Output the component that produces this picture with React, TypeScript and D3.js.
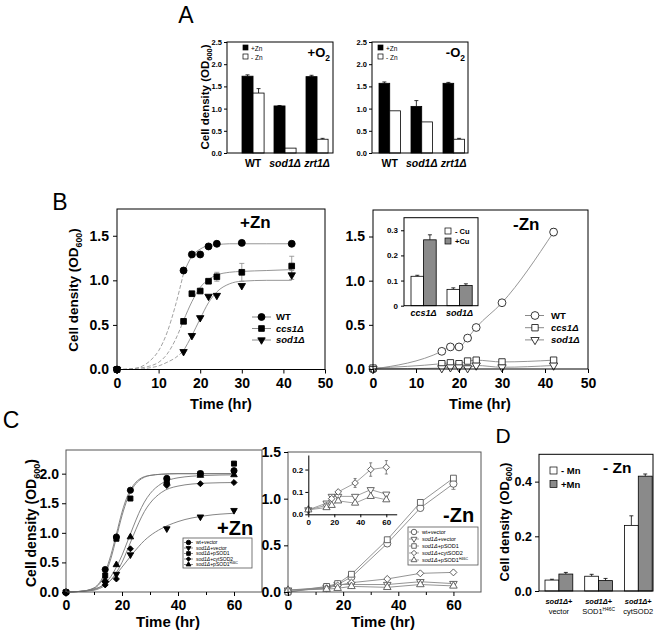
import React, { useRef, useEffect } from "react";
import * as d3 from "d3";

const W = 661;
const H = 633;
const FONT = "Arial, 'Liberation Sans', Helvetica, sans-serif";
const GREY = "#8a8a8a";

// ---- Panel A: end-point density, +O2 / -O2 ----
const aStrains = ["WT", "sod1Δ", "zrt1Δ"];
const aZinc = ["+Zn", "- Zn"];
const aAerobic = [[1.73, 1.35], [1.06, 0.11], [1.72, 0.31]];
const aAerobicErr = [[0.03, 0.1], [0.01, 0.0], [0.03, 0.02]];
const aAnaerobic = [[1.57, 0.95], [1.05, 0.7], [1.57, 0.31]];
const aAnaerobicErr = [[0.03, 0.0], [0.13, 0.0], [0.02, 0.02]];
const aTicks = [0, 0.5, 1, 1.5, 2, 2.5];

// ---- Panel B: growth curves +Zn / -Zn ----
const bTimes = [0, 16, 18, 20, 22, 24, 30, 42];
const bZnWT = [0, 1.11, 1.29, 1.29, 1.38, 1.41, 1.42, 1.41];
const bZnCcs1 = [0, 0.54, 0.85, 0.88, 0.99, 1.04, 1.09, 1.16];
const bZnCcs1Err = [0, 0, 0, 0, 0, 0.05, 0.1, 0.11];
const bZnSod1 = [0, 0.2, 0.38, 0.58, 0.82, 0.83, 0.94, 1.06];
const bZnSod1Err = [0, 0, 0, 0, 0, 0, 0, 0.05];
// fitted (sigmoid) curves
const bFitTimes = [0, 4, 8, 10, 12, 14, 16, 18, 20, 22, 24, 27, 30, 36, 42];
const bFitWT = [0, 0.01, 0.1, 0.21, 0.41, 0.71, 1.08, 1.27, 1.35, 1.39, 1.4, 1.41, 1.41, 1.41, 1.41];
const bFitCcs1 = [0, 0.01, 0.04, 0.08, 0.17, 0.33, 0.55, 0.76, 0.92, 1.01, 1.06, 1.09, 1.1, 1.11, 1.12];
const bFitSod1 = [0, 0, 0.02, 0.04, 0.08, 0.13, 0.21, 0.38, 0.57, 0.75, 0.87, 0.96, 0.99, 1.0, 1.0];

const bNoZnWT = [0, 0.2, 0.25, 0.25, 0.35, 0.47, 0.75, 1.55];
const bNoZnWTErr = [0, 0, 0, 0, 0, 0, 0, 0.04];
const bNoZnCcs1 = [0.01, 0.06, 0.07, 0.06, 0.09, 0.1, 0.08, 0.1];
const bNoZnSod1 = [0, 0.01, 0.02, 0.02, 0.01, 0.04, 0.02, 0.04];

// inset: copper rescue
const bInsetStrains = ["ccs1Δ", "sod1Δ"];
const bInsetCu = ["- Cu", "+Cu"];
const bInsetVals = [[0.117, 0.262], [0.065, 0.08]];
const bInsetErr = [[0.004, 0.02], [0.006, 0.007]];

// ---- Panel C: complementation ----
const cTimes = [0, 14, 18, 23, 36, 48, 60];
const cLabels = ["wt+vector", "sod1Δ+vector", "sod1Δ+pSOD1", "sod1Δ+cytSOD2", "sod1Δ+pSOD1H46C"];
const cZnWT = [-0.01, 0.38, 0.93, 1.72, 1.92, 2.0, 2.05];
const cZnSod1 = [-0.01, 0.15, 0.3, 0.63, 1.07, 1.27, 1.38];
const cZnPSOD1 = [0, 0.28, 0.9, 1.58, 1.88, 2.0, 2.17];
const cZnCyt = [0, 0.12, 0.22, 0.73, 1.8, 1.83, 1.85];
const cZnH46C = [0, 0.2, 0.46, 0.93, 1.85, 1.97, 1.98];
const cFitTimes = [0, 5, 10, 12, 14, 16, 18, 20, 22, 24, 26, 28, 30, 34, 40, 50, 60];
const cFitWT = [0, 0.01, 0.07, 0.16, 0.34, 0.62, 0.98, 1.35, 1.63, 1.8, 1.9, 1.95, 1.97, 1.99, 2.0, 2.0, 2.0];
const cFitSod1 = [0, 0.01, 0.05, 0.08, 0.13, 0.2, 0.3, 0.42, 0.54, 0.66, 0.77, 0.87, 0.95, 1.07, 1.19, 1.29, 1.33];
const cFitPSOD1 = [0, 0.01, 0.06, 0.14, 0.3, 0.56, 0.92, 1.29, 1.58, 1.77, 1.88, 1.94, 1.97, 1.99, 2.0, 2.0, 2.0];
const cFitCyt = [0, 0.01, 0.03, 0.06, 0.11, 0.2, 0.33, 0.5, 0.72, 0.95, 1.17, 1.36, 1.5, 1.68, 1.79, 1.84, 1.85];
const cFitH46C = [0, 0.01, 0.04, 0.08, 0.15, 0.26, 0.42, 0.62, 0.86, 1.1, 1.33, 1.52, 1.66, 1.83, 1.93, 1.97, 1.98];

const cNoZnWT = [0, 0.05, 0.08, 0.16, 0.52, 0.9, 1.16];
const cNoZnWTErr = [0, 0, 0, 0, 0, 0, 0.06];
const cNoZnSod1 = [0.02, 0.05, 0.08, 0.08, 0.08, 0.11, 0.09];
const cNoZnPSOD1 = [0, 0.06, 0.09, 0.19, 0.56, 0.96, 1.22];
const cNoZnPSOD1Err = [0, 0, 0, 0, 0, 0, 0.03];
const cNoZnCyt = [0.02, 0.04, 0.07, 0.1, 0.14, 0.2, 0.21];
const cNoZnCytErr = [0, 0, 0, 0, 0.02, 0.03, 0.03];
const cNoZnH46C = [0.02, 0.03, 0.04, 0.06, 0.05, 0.08, 0.065];

// ---- Panel D: manganese ----
const dStrains = ["vector", "SOD1", "cytSOD2"];
const dMn = ["- Mn", "+Mn"];
const dVals = [[0.04, 0.062], [0.054, 0.038], [0.24, 0.42]];
const dErr = [[0.003, 0.006], [0.007, 0.008], [0.035, 0.008]];

type Sym = "circle" | "square" | "down" | "up" | "diamond";
type Part = { t: string; italic?: boolean; sub?: boolean; sup?: boolean };
type Sel = d3.Selection<any, unknown, null, undefined>;

const App: React.FC = () => {
  const svgRef = useRef<SVGSVGElement | null>(null);

  useEffect(() => {
    const svg = d3.select(svgRef.current);
    svg.selectAll("*").remove();
    svg.append("rect").attr("width", W).attr("height", H).attr("fill", "white");
    const root: Sel = svg.append("g").attr("font-family", FONT);

    // rich text with italic / sub / superscript parts
    const rich = (x: number, y: number, parts: Part[], size: number, anchor = "start", rotate = false, weight = "bold") => {
      const t = root
        .append("text")
        .attr("text-anchor", anchor)
        .style("font-size", `${size}px`)
        .style("font-weight", weight)
        .attr("fill", "black");
      if (rotate) t.attr("transform", `translate(${x},${y}) rotate(-90)`);
      else t.attr("x", x).attr("y", y);
      let shift = 0;
      parts.forEach((p) => {
        const sp = t.append("tspan").text(p.t);
        const target = p.sub ? size * 0.3 : p.sup ? -size * 0.4 : 0;
        if (target !== shift) {
          sp.attr("dy", target - shift);
          shift = target;
        }
        if (p.sub || p.sup) sp.style("font-size", `${size * 0.65}px`);
        if (p.italic) sp.style("font-style", "italic");
      });
      return t;
    };
    const strainParts = (s: string): Part[] =>
      s.includes("Δ") ? [{ t: s, italic: true }] : [{ t: s }];

    const yLabel = (x: number, y: number, size: number) =>
      rich(x + size * 0.35, y, [{ t: "Cell density (OD" }, { t: "600", sub: true }, { t: ")" }], size, "middle", true);

    const frame = (x0: number, y0: number, x1: number, y1: number, stroke = "black") =>
      root
        .append("rect")
        .attr("x", x0)
        .attr("y", y0)
        .attr("width", x1 - x0)
        .attr("height", y1 - y0)
        .attr("fill", "none")
        .attr("stroke", stroke)
        .attr("stroke-width", 1);

    const axis = (ax: any, tx: number, ty: number, size: number, keepDomain = false) => {
      const g = root.append("g").attr("transform", `translate(${tx},${ty})`).call(ax);
      g.attr("font-family", FONT).attr("font-size", size).attr("font-weight", "bold");
      if (!keepDomain) g.select(".domain").remove();
      g.selectAll("line").attr("stroke", "black");
      g.selectAll("text").attr("fill", "black");
      return g;
    };

    const band = (cats: string[], start: number, step: number, inner: number) => {
      const r0 = start - inner * step;
      return d3
        .scaleBand<string>()
        .domain(cats)
        .range([r0, r0 + step * (cats.length + inner)])
        .paddingInner(inner)
        .paddingOuter(inner);
    };

    const errBar = (x: number, ya: number, yb: number, cap: number, color = "black") => {
      root.append("line").attr("x1", x).attr("x2", x).attr("y1", ya).attr("y2", yb).attr("stroke", color).attr("stroke-width", 0.8);
      root.append("line").attr("x1", x - cap).attr("x2", x + cap).attr("y1", yb).attr("y2", yb).attr("stroke", color).attr("stroke-width", 0.8);
    };

    const drawBars = (
      x: d3.ScaleBand<string>,
      y: d3.ScaleLinear<number, number>,
      series: string[],
      vals: number[][],
      errs: number[][],
      fills: string[]
    ) => {
      const xs = d3.scaleBand<string>().domain(series).range([0, x.bandwidth()]);
      x.domain().forEach((c, i) => {
        series.forEach((s, j) => {
          const bx = (x(c) as number) + (xs(s) as number);
          const v = vals[i][j];
          const e = errs[i][j];
          if (e > 0) errBar(bx + xs.bandwidth() / 2, y(v), y(v + e), 2);
          root
            .append("rect")
            .attr("x", bx)
            .attr("y", y(v))
            .attr("width", xs.bandwidth())
            .attr("height", y(0) - y(v))
            .attr("fill", fills[j])
            .attr("stroke", "black")
            .attr("stroke-width", 0.8);
        });
      });
    };

    // triangles and diamonds look larger than circles of equal area
    const symScale = (s: Sym) => (s === "down" || s === "up" ? 0.62 : s === "diamond" ? 0.6 : s === "square" ? 0.85 : 1);
    const symPath = (s: Sym, size: number) => {
      const t =
        s === "circle" ? d3.symbolCircle : s === "square" || s === "diamond" ? d3.symbolSquare : d3.symbolTriangle;
      return d3.symbol().type(t).size(size * symScale(s))() as string;
    };
    const mark = (s: Sym, x: number, y: number, size: number, fill: string, stroke: string) =>
      root
        .append("path")
        .attr("d", symPath(s, size))
        .attr("transform", `translate(${x},${y}) rotate(${s === "down" ? 180 : s === "diamond" ? 45 : 0})`)
        .attr("fill", fill)
        .attr("stroke", stroke)
        .attr("stroke-width", 0.9);

    const pathOf = (
      x: d3.ScaleLinear<number, number>,
      y: d3.ScaleLinear<number, number>,
      ts: number[],
      vs: number[],
      curve: d3.CurveFactory
    ) =>
      d3
        .line<number>()
        .x((_, i) => x(ts[i]))
        .y((v) => y(v))
        .curve(curve)(vs) as string;

    const fmt1 = d3.format(".1f");

    // =========================== A ===========================
    rich(186, 23, [{ t: "A" }], 23, "middle", false, "normal");
    const aY = d3.scaleLinear().domain([0, 2.5]).range([153, 42]);
    yLabel(205, 97, 11.5);
    const aPanels = [
      { x0: 227, x1: 333, start: 242, inner: 0.31, vals: aAerobic, errs: aAerobicErr, sign: "+", legX: 243 },
      { x0: 372, x1: 468, start: 379, inner: 0.33, vals: aAnaerobic, errs: aAnaerobicErr, sign: "-", legX: 378 },
    ];
    aPanels.forEach((p) => {
      const x = band(aStrains, p.start, 32, p.inner);
      drawBars(x, aY, aZinc, p.vals, p.errs, ["black", "white"]);
      frame(p.x0, 42, p.x1, 153);
      axis(d3.axisLeft(aY).tickValues(aTicks).tickFormat((d: any) => fmt1(d)).tickSize(3).tickPadding(2), p.x0, 0, 7.5);
      aStrains.forEach((s) => rich((x(s) as number) + x.bandwidth() / 2, 167, strainParts(s), 10.5, "middle"));
      aZinc.forEach((z, i) => {
        root
          .append("rect")
          .attr("x", p.legX)
          .attr("y", 45 + i * 9)
          .attr("width", 5)
          .attr("height", 5)
          .attr("fill", i === 0 ? "black" : "white")
          .attr("stroke", "black")
          .attr("stroke-width", 0.7);
        rich(p.legX + 8, 50.5 + i * 9, [{ t: z }], 6.5, "start", false, "normal");
      });
      rich(p.x1 - 3, 57, [{ t: p.sign + "O" }, { t: "2", sub: true }], 13, "end");
    });

    // =========================== B ===========================
    rich(60, 210, [{ t: "B" }], 23, "middle", false, "normal");
    yLabel(73, 290, 13.5);
    const bY = d3.scaleLinear().domain([0, 1.8]).range([369.5, 209]);
    const bYTicks = [0, 0.5, 1, 1.5];
    const bXTicks = [0, 10, 20, 30, 40, 50];

    // B left (+Zn)
    const bXL = d3.scaleLinear().domain([0, 50]).range([117, 325]);
    const bLeft = [
      { name: "WT", sym: "circle" as Sym, vals: bZnWT, err: bTimes.map(() => 0), fit: bFitWT },
      { name: "ccs1Δ", sym: "square" as Sym, vals: bZnCcs1, err: bZnCcs1Err, fit: bFitCcs1 },
      { name: "sod1Δ", sym: "down" as Sym, vals: bZnSod1, err: bZnSod1Err, fit: bFitSod1 },
    ];
    bLeft.forEach((s) => {
      const cut = bFitTimes.findIndex((t) => t >= bTimes[1]);
      root
        .append("path")
        .attr("d", pathOf(bXL, bY, bFitTimes.slice(0, cut + 1), s.fit.slice(0, cut + 1), d3.curveMonotoneX))
        .attr("fill", "none")
        .attr("stroke", GREY)
        .attr("stroke-width", 0.8)
        .attr("stroke-dasharray", "4,2");
      root
        .append("path")
        .attr("d", pathOf(bXL, bY, bFitTimes.slice(cut), s.fit.slice(cut), d3.curveMonotoneX))
        .attr("fill", "none")
        .attr("stroke", GREY)
        .attr("stroke-width", 0.9);
      s.vals.forEach((v, i) => {
        if (s.err[i] > 0) {
          errBar(bXL(bTimes[i]), bY(v), bY(v + s.err[i]), 2.5, GREY);
          errBar(bXL(bTimes[i]), bY(v), bY(v - s.err[i]), 2.5, GREY);
        }
      });
      s.vals.forEach((v, i) => mark(s.sym, bXL(bTimes[i]), bY(v), 38, "black", "black"));
    });
    frame(117, 209, 325, 369.5);
    axis(d3.axisLeft(bY).tickValues(bYTicks).tickFormat((d: any) => fmt1(d)).tickSize(4).tickPadding(4), 117, 0, 14);
    axis(d3.axisBottom(bXL).tickValues(bXTicks).tickSize(4).tickPadding(5), 0, 369.5, 14);
    rich(221, 409, [{ t: "Time (hr)" }], 14.5, "middle");
    rich(240, 228, [{ t: "+Zn" }], 17);
    bLeft.forEach((s, i) => {
      const ly = 317 + i * 11.5;
      root.append("line").attr("x1", 252).attr("x2", 271).attr("y1", ly).attr("y2", ly).attr("stroke", GREY);
      mark(s.sym, 261.5, ly, 38, "black", "black");
      rich(276, ly + 3.3, strainParts(s.name), 9.5, "start");
    });

    // B right (-Zn)
    const bXR = d3.scaleLinear().domain([0, 50]).range([373, 588]);
    const bYR = d3.scaleLinear().domain([0, 1.8]).range([369, 210]);
    const bRight = [
      { name: "WT", sym: "circle" as Sym, vals: bNoZnWT, err: bNoZnWTErr },
      { name: "ccs1Δ", sym: "square" as Sym, vals: bNoZnCcs1, err: bTimes.map(() => 0) },
      { name: "sod1Δ", sym: "down" as Sym, vals: bNoZnSod1, err: bTimes.map(() => 0) },
    ];
    bRight.forEach((s) => {
      root
        .append("path")
        .attr("d", pathOf(bXR, bYR, bTimes, s.vals, d3.curveMonotoneX))
        .attr("fill", "none")
        .attr("stroke", GREY)
        .attr("stroke-width", 0.9);
      s.vals.forEach((v, i) => {
        if (s.err[i] > 0) {
          errBar(bXR(bTimes[i]), bYR(v), bYR(v + s.err[i]), 2.5, "#444");
          errBar(bXR(bTimes[i]), bYR(v), bYR(v - s.err[i]), 2.5, "#444");
        }
      });
      s.vals.forEach((v, i) => mark(s.sym, bXR(bTimes[i]), bYR(v), 48, "white", "#222"));
    });
    frame(373, 210, 588, 369);
    axis(d3.axisLeft(bYR).tickValues(bYTicks).tickFormat((d: any) => fmt1(d)).tickSize(4).tickPadding(4), 373, 0, 14);
    axis(d3.axisBottom(bXR).tickValues(bXTicks).tickSize(4).tickPadding(5), 0, 369, 14);
    rich(480, 409, [{ t: "Time (hr)" }], 14.5, "middle");
    rich(513, 230, [{ t: "-Zn" }], 17);
    bRight.forEach((s, i) => {
      const ly = 315.5 + i * 12.2;
      root.append("line").attr("x1", 525).attr("x2", 544).attr("y1", ly).attr("y2", ly).attr("stroke", GREY);
      mark(s.sym, 535, ly, 48, "white", "#222");
      rich(551, ly + 3.3, strainParts(s.name), 9.5, "start");
    });

    // B inset (copper)
    const biY = d3.scaleLinear().domain([0, 0.35]).range([305.7, 217.7]);
    const biX = band(bInsetStrains, 411, 36, 0.3);
    root.append("rect").attr("x", 404).attr("y", 217.7).attr("width", 74).attr("height", 88).attr("fill", "white");
    drawBars(biX, biY, bInsetCu, bInsetVals, bInsetErr, ["white", GREY]);
    frame(404, 217.7, 478, 305.7);
    axis(
      d3.axisLeft(biY).tickValues([0, 0.1, 0.2, 0.3]).tickFormat((d: any) => (d === 0 ? "0" : fmt1(d))).tickSize(3).tickPadding(3),
      404,
      0,
      8
    );
    bInsetStrains.forEach((s) => rich((biX(s) as number) + biX.bandwidth() / 2, 315.5, strainParts(s), 9, "middle"));
    bInsetCu.forEach((c, i) => {
      root
        .append("rect")
        .attr("x", 445)
        .attr("y", 228 + i * 10)
        .attr("width", 6)
        .attr("height", 6)
        .attr("fill", i === 0 ? "white" : GREY)
        .attr("stroke", "black")
        .attr("stroke-width", 0.7);
      rich(455, 234 + i * 10, [{ t: c }], 7.5);
    });

    // =========================== C ===========================
    rich(11, 428, [{ t: "C" }], 23, "middle", false, "normal");
    yLabel(31, 523, 14);
    const cSyms: Sym[] = ["circle", "down", "square", "diamond", "up"];
    const legendText = (i: number): Part[] => {
      if (i === 0) return [{ t: "wt+vector" }];
      const rest = cLabels[i].replace("sod1Δ", "");
      if (rest.endsWith("H46C")) return [{ t: "sod1Δ", italic: true }, { t: rest.replace("H46C", "") }, { t: "H46C", sup: true }];
      return [{ t: "sod1Δ", italic: true }, { t: rest }];
    };

    // C left (+Zn)
    const cXL = d3.scaleLinear().domain([0, 70]).range([66, 262]);
    const cYL = d3.scaleLinear().domain([0, 2.4]).range([592, 450]);
    const cZn = [cZnWT, cZnSod1, cZnPSOD1, cZnCyt, cZnH46C];
    const cFits = [cFitWT, cFitSod1, cFitPSOD1, cFitCyt, cFitH46C];
    cFits.forEach((f) =>
      root
        .append("path")
        .attr("d", pathOf(cXL, cYL, cFitTimes, f, d3.curveMonotoneX))
        .attr("fill", "none")
        .attr("stroke", "#777")
        .attr("stroke-width", 0.9)
    );
    cZn.forEach((vals, k) => vals.forEach((v, i) => mark(cSyms[k], cXL(cTimes[i]), cYL(v), 30, "black", "black")));
    frame(66, 450, 262, 592, "#555");
    axis(d3.axisLeft(cYL).tickValues([0, 0.5, 1, 1.5, 2]).tickFormat((d: any) => fmt1(d)).tickSize(4).tickPadding(3), 66, 0, 14);
    axis(d3.axisBottom(cXL).tickValues([0, 20, 40, 60]).tickSize(4).tickPadding(4), 0, 592, 14);
    axis(d3.axisBottom(cXL).tickValues([10, 30, 50]).tickFormat(() => "").tickSize(3), 0, 592, 14);
    rich(168, 627, [{ t: "Time (hr)" }], 15, "middle");
    rich(217, 535, [{ t: "+Zn" }], 20);
    root.append("rect").attr("x", 183).attr("y", 538).attr("width", 69).attr("height", 30).attr("fill", "white").attr("stroke", "#555").attr("stroke-width", 0.8);
    cLabels.forEach((_, i) => {
      const ly = 542.5 + i * 5.5;
      root.append("line").attr("x1", 184).attr("x2", 193).attr("y1", ly).attr("y2", ly).attr("stroke", "#555").attr("stroke-width", 0.7);
      mark(cSyms[i], 188.5, ly, 16, "black", "black");
      rich(196, ly + 1.8, legendText(i), 5, "start", false, "normal");
    });

    // C right (-Zn)
    const cXR = d3.scaleLinear().domain([0, 70]).range([288, 481]);
    const cYR = d3.scaleLinear().domain([0, 1.5]).range([592, 452]);
    const cNoZn = [cNoZnWT, cNoZnSod1, cNoZnPSOD1, cNoZnCyt, cNoZnH46C];
    const cNoZnErr = [cNoZnWTErr, cTimes.map(() => 0), cNoZnPSOD1Err, cNoZnCytErr, cTimes.map(() => 0)];
    cNoZn.forEach((vals, k) => {
      root
        .append("path")
        .attr("d", pathOf(cXR, cYR, cTimes, vals, d3.curveLinear))
        .attr("fill", "none")
        .attr("stroke", "#888")
        .attr("stroke-width", 0.9);
      vals.forEach((v, i) => {
        const e = cNoZnErr[k][i];
        if (e > 0 && cYR(v) - cYR(v + e) > 3) {
          errBar(cXR(cTimes[i]), cYR(v), cYR(v + e), 2, "#666");
          errBar(cXR(cTimes[i]), cYR(v), cYR(v - e), 2, "#666");
        }
      });
      vals.forEach((v, i) => mark(cSyms[k], cXR(cTimes[i]), cYR(v), 40, "white", "#555"));
    });
    frame(288, 452, 481, 592, "#555");
    axis(d3.axisLeft(cYR).tickValues([0, 0.5, 1, 1.5]).tickFormat((d: any) => fmt1(d)).tickSize(4).tickPadding(3), 288, 0, 14);
    axis(d3.axisBottom(cXR).tickValues([0, 20, 40, 60]).tickSize(4).tickPadding(4), 0, 592, 14);
    axis(d3.axisBottom(cXR).tickValues([10, 30, 50]).tickFormat(() => "").tickSize(3), 0, 592, 14);
    rich(383, 627, [{ t: "Time (hr)" }], 15, "middle");
    rich(443, 522, [{ t: "-Zn" }], 20);
    root.append("rect").attr("x", 408).attr("y", 527).attr("width", 70).attr("height", 38).attr("fill", "white").attr("stroke", "#555").attr("stroke-width", 0.8);
    cLabels.forEach((_, i) => {
      const ly = 532 + i * 7;
      root.append("line").attr("x1", 409).attr("x2", 419).attr("y1", ly).attr("y2", ly).attr("stroke", "#777").attr("stroke-width", 0.7);
      mark(cSyms[i], 414, ly, 24, "white", "#555");
      rich(422, ly + 2, legendText(i), 5.5, "start", false, "normal");
    });

    // C inset (low values)
    const ciX = d3.scaleLinear().domain([0, 68]).range([308.3, 396.7]);
    const ciY = d3.scaleLinear().domain([0, 0.265]).range([514.3, 455]);
    [cNoZnSod1, cNoZnCyt, cNoZnH46C].forEach((vals, kk) => {
      const k = [1, 3, 4][kk];
      root
        .append("path")
        .attr("d", pathOf(ciX, ciY, cTimes, vals, d3.curveLinear))
        .attr("fill", "none")
        .attr("stroke", "#888")
        .attr("stroke-width", 0.8);
      vals.forEach((v, i) => {
        const e = cNoZnErr[k][i];
        if (e > 0) {
          errBar(ciX(cTimes[i]), ciY(v), ciY(v + e), 1.5, "#666");
          errBar(ciX(cTimes[i]), ciY(v), ciY(v - e), 1.5, "#666");
        }
      });
      vals.forEach((v, i) => mark(cSyms[k], ciX(cTimes[i]), ciY(v), 36, "white", "#555"));
    });
    axis(d3.axisLeft(ciY).tickValues([0, 0.1, 0.2]).tickFormat((d: any) => fmt1(d)).tickSize(3).tickPadding(2).tickSizeOuter(0), 308.3, 0, 8, true);
    axis(d3.axisBottom(ciX).tickValues([0, 20, 40, 60]).tickSize(3).tickPadding(2).tickSizeOuter(0), 0, 514.3, 8, true);

    // =========================== D ===========================
    rich(503, 443, [{ t: "D" }], 21, "middle", false, "normal");
    yLabel(504, 522, 13);
    const dY = d3.scaleLinear().domain([0, 0.5]).range([591, 454.3]);
    const dX = band(dStrains, 545, 39.7, 0.3);
    drawBars(dX, dY, dMn, dVals, dErr, ["white", GREY]);
    frame(539, 454.3, 653, 591);
    axis(d3.axisLeft(dY).tickValues([0, 0.2, 0.4]).tickFormat((d: any) => fmt1(d)).tickSize(4).tickPadding(3), 539, 0, 12.5);
    dStrains.forEach((s) => {
      const cx = (dX(s) as number) + dX.bandwidth() / 2;
      rich(cx, 604, [{ t: "sod1Δ", italic: true }, { t: "+" }], 7.5, "middle");
      rich(cx, 613.5, s === "SOD1" ? [{ t: "SOD1" }, { t: "H46C", sup: true }] : [{ t: s }], 7.5, "middle", false, "normal");
    });
    dMn.forEach((m, i) => {
      root
        .append("rect")
        .attr("x", 550)
        .attr("y", 467 + i * 13.5)
        .attr("width", 7)
        .attr("height", 7)
        .attr("fill", i === 0 ? "white" : GREY)
        .attr("stroke", "black")
        .attr("stroke-width", 0.7);
      rich(561, 474 + i * 13.5, [{ t: m }], 9.5);
    });
    rich(603, 473, [{ t: "- Zn" }], 15.5);
  }, []);

  return (
    <svg
      ref={svgRef}
      width={W}
      height={H}
      style={{ position: "absolute", left: 0, top: 0 }}
    ></svg>
  );
};

export default App;
